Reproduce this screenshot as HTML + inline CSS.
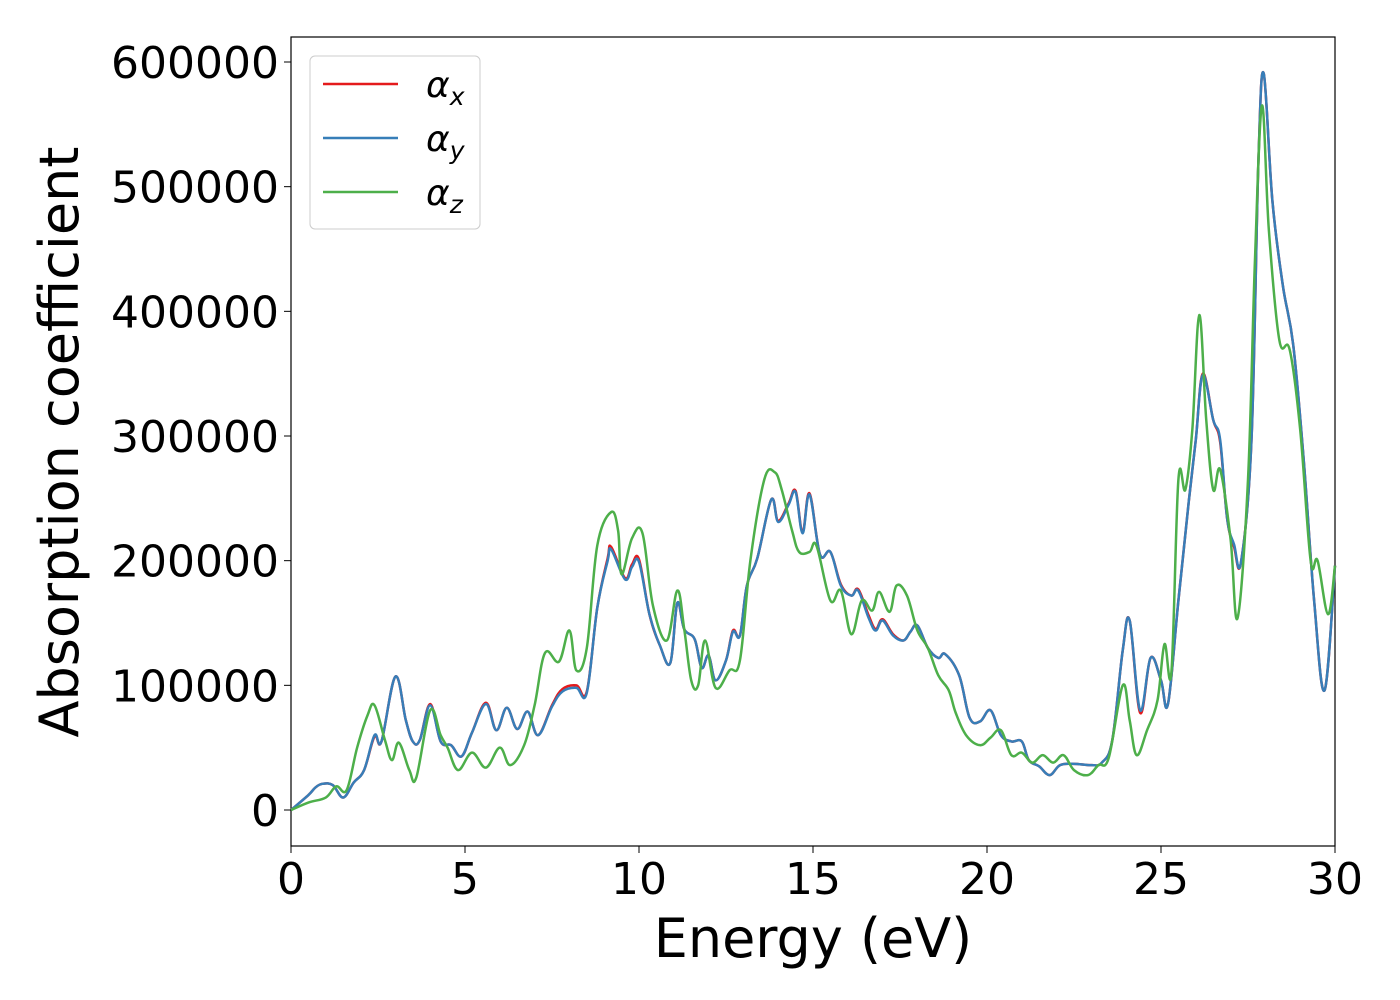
<!DOCTYPE html>
<html><head><meta charset="utf-8"><style>
html,body{margin:0;padding:0;background:#fff;}
svg{display:block;font-family:"DejaVu Sans","Liberation Sans",sans-serif;}
</style></head><body>
<svg id="chart" width="1400" height="1000" xmlns="http://www.w3.org/2000/svg">
<g id="grid"></g>
<rect x="291" y="37" width="1044" height="809" fill="none" stroke="#000" stroke-width="1.2"/>
<g id="series"></g>
<g id="axes"></g>
<text x="78" y="442" font-size="54" text-anchor="middle" transform="rotate(-90 78 442)">Absorption coefficient</text>
<text x="813" y="957" font-size="54" text-anchor="middle">Energy (eV)</text>
<g>
<rect x="310" y="56" width="170" height="173" rx="5" fill="#fff" fill-opacity="0.8" stroke="#ccc"/>
<line x1="323" y1="84" x2="398" y2="84" stroke="#e41a1c" stroke-width="2.5"/>
<text x="426" y="97" font-size="36" font-style="italic">α<tspan font-size="25" dy="8">x</tspan></text>
<line x1="323" y1="138" x2="398" y2="138" stroke="#377eb8" stroke-width="2.5"/>
<text x="426" y="151" font-size="36" font-style="italic">α<tspan font-size="25" dy="8">y</tspan></text>
<line x1="323" y1="192" x2="398" y2="192" stroke="#4daf4a" stroke-width="2.5"/>
<text x="426" y="205" font-size="36" font-style="italic">α<tspan font-size="25" dy="8">z</tspan></text>
</g>
</svg>
<script>
const energyXY=[0,0.5,0.7,0.9,1.2,1.5,1.8,2.1,2.4,2.6,3.0,3.3,3.5,3.7,4.0,4.3,4.6,4.9,5.2,5.6,5.9,6.2,6.5,6.8,7.1,7.5,7.8,8.2,8.5,8.8,9.1,9.2,9.6,9.8,10.0,10.3,10.6,10.9,11.1,11.3,11.6,11.8,12.0,12.2,12.5,12.7,12.9,13.1,13.4,13.8,14.0,14.3,14.5,14.7,14.9,15.2,15.5,15.8,16.1,16.3,16.6,16.8,17.0,17.3,17.6,17.8,18.0,18.3,18.6,18.8,19.2,19.5,19.8,20.1,20.4,20.7,21.0,21.2,21.5,21.8,22.1,22.5,23.0,23.3,23.6,23.9,24.1,24.4,24.7,25.0,25.2,25.5,25.8,26.0,26.2,26.5,26.7,26.9,27.1,27.3,27.6,27.8,27.95,28.2,28.5,28.8,29.1,29.4,29.7,30.0];
const alphaY=[0,12000,18000,21000,20000,10000,22000,32000,60000,55000,107000,72000,55000,56000,84000,55000,52000,43000,62000,85000,64000,82000,65000,79000,60000,83000,95000,98000,94000,162000,200000,209000,185000,195000,199000,157000,132000,118000,166000,145000,137000,114000,124000,104000,120000,143000,140000,180000,202000,249000,231000,245000,255000,222000,253000,205000,207000,180000,172000,176000,154000,144000,152000,140000,136000,143000,148000,130000,122000,125000,108000,74000,71000,80000,60000,55000,55000,40000,35000,28000,36000,37000,36000,38000,56000,128000,152000,80000,122000,104000,85000,168000,248000,297000,349000,313000,297000,234000,213000,199000,297000,521000,591000,489000,421000,373000,281000,168000,96000,196000];
const alphaX=[0,12000,18000,21000,20000,10000,22000,32000,59000,55000,107000,72000,55000,56000,85000,55000,52000,43000,62000,86000,64000,82000,65000,79000,60000,84000,97000,100000,95000,162000,202000,211000,186000,197000,201000,157000,132000,118000,166000,145000,137000,114000,124000,104000,120000,144000,140000,180000,202000,249000,232000,246000,256000,223000,254000,205000,207000,181000,172000,177000,156000,145000,153000,141000,136000,143000,148000,130000,122000,125000,108000,74000,71000,80000,60000,55000,55000,40000,35000,28000,36000,37000,36000,38000,56000,128000,152000,78000,122000,104000,85000,168000,248000,297000,350000,313000,295000,234000,211000,199000,297000,521000,591000,489000,421000,373000,281000,168000,96000,196000];
const energyZ=[0,0.5,1.0,1.3,1.6,1.9,2.2,2.4,2.7,2.9,3.1,3.4,3.6,4.0,4.3,4.5,4.8,5.2,5.6,6.0,6.3,6.7,7.0,7.3,7.7,8.0,8.2,8.5,8.8,9.2,9.4,9.5,9.8,10.1,10.4,10.8,11.1,11.3,11.5,11.7,11.9,12.2,12.6,12.9,13.2,13.6,13.9,14.1,14.4,14.6,14.9,15.1,15.5,15.8,16.1,16.4,16.7,16.9,17.2,17.4,17.7,18.0,18.3,18.6,18.9,19.1,19.4,19.8,20.1,20.4,20.7,21.0,21.3,21.6,21.9,22.2,22.5,22.9,23.2,23.5,23.9,24.1,24.3,24.6,24.9,25.1,25.3,25.5,25.7,25.9,26.1,26.3,26.5,26.7,27.0,27.2,27.5,27.7,27.9,28.1,28.4,28.7,29.0,29.3,29.5,29.8,30.0];
const alphaZ=[0,6000,10000,19000,16000,50000,76000,84000,56000,40000,54000,32000,26000,80000,60000,50000,32000,46000,34000,50000,36000,52000,84000,126000,119000,144000,112000,130000,212000,239000,224000,189000,218000,222000,164000,136000,176000,145000,104000,100000,136000,98000,112000,120000,200000,265000,271000,257000,224000,207000,207000,212000,168000,176000,141000,168000,160000,175000,159000,180000,172000,144000,130000,108000,96000,78000,60000,52000,58000,64000,44000,46000,38000,44000,38000,44000,32000,28000,36000,42000,100000,72000,44000,64000,88000,133000,111000,265000,257000,305000,397000,313000,257000,273000,217000,154000,265000,441000,565000,465000,377000,369000,305000,200000,200000,157000,196000];
const xTicks=[0,5,10,15,20,25,30];
const yTicks=[0,100000,200000,300000,400000,500000,600000];

const NS="http://www.w3.org/2000/svg";
function sx(v){return 291+v/30*1044;}
function sy(v){return 810-v/600000*748;}
function path(xs,ys){
  const p=xs.map((x,i)=>[sx(x),sy(ys[i])]);
  let d="M"+p[0][0]+","+p[0][1];
  for(let i=0;i<p.length-1;i++){
    const p0=p[Math.max(0,i-1)],p1=p[i],p2=p[i+1],p3=p[Math.min(p.length-1,i+2)];
    const t=0.18;
    d+=" C"+(p1[0]+(p2[0]-p0[0])*t)+","+(p1[1]+(p2[1]-p0[1])*t)+" "+(p2[0]-(p3[0]-p1[0])*t)+","+(p2[1]-(p3[1]-p1[1])*t)+" "+p2[0]+","+p2[1];
  }
  return d;
}
const g=document.getElementById("series");
function addLine(xs,ys,color,name){
  const el=document.createElementNS(NS,"path");
  el.setAttribute("d",path(xs,ys));
  el.setAttribute("fill","none");
  el.setAttribute("stroke",color);
  el.setAttribute("stroke-width","2.5");
  el.setAttribute("stroke-linejoin","round");
  
  
  g.appendChild(el);
}
addLine(energyXY,alphaX,"#e41a1c","series-alpha-x");
addLine(energyXY,alphaY,"#377eb8","series-alpha-y");
addLine(energyZ,alphaZ,"#4daf4a","series-alpha-z");
const a=document.getElementById("axes");
xTicks.forEach(v=>{
  const l=document.createElementNS(NS,"line");
  l.setAttribute("x1",sx(v));l.setAttribute("x2",sx(v));l.setAttribute("y1",846);l.setAttribute("y2",853);l.setAttribute("stroke","#000");
  
  
  a.appendChild(l);
  const t=document.createElementNS(NS,"text");
  t.setAttribute("x",sx(v));t.setAttribute("y",894);t.setAttribute("font-size","44");t.setAttribute("text-anchor","middle");
  t.textContent=v;
  
  
  a.appendChild(t);
});
yTicks.forEach(v=>{
  const l=document.createElementNS(NS,"line");
  l.setAttribute("x1",284);l.setAttribute("x2",291);l.setAttribute("y1",sy(v));l.setAttribute("y2",sy(v));l.setAttribute("stroke","#000");
  
  
  a.appendChild(l);
  const t=document.createElementNS(NS,"text");
  t.setAttribute("x",279);t.setAttribute("y",sy(v)+16);t.setAttribute("font-size","44");t.setAttribute("text-anchor","end");
  t.textContent=v;
  
  
  a.appendChild(t);
});
</script>
</body></html>
